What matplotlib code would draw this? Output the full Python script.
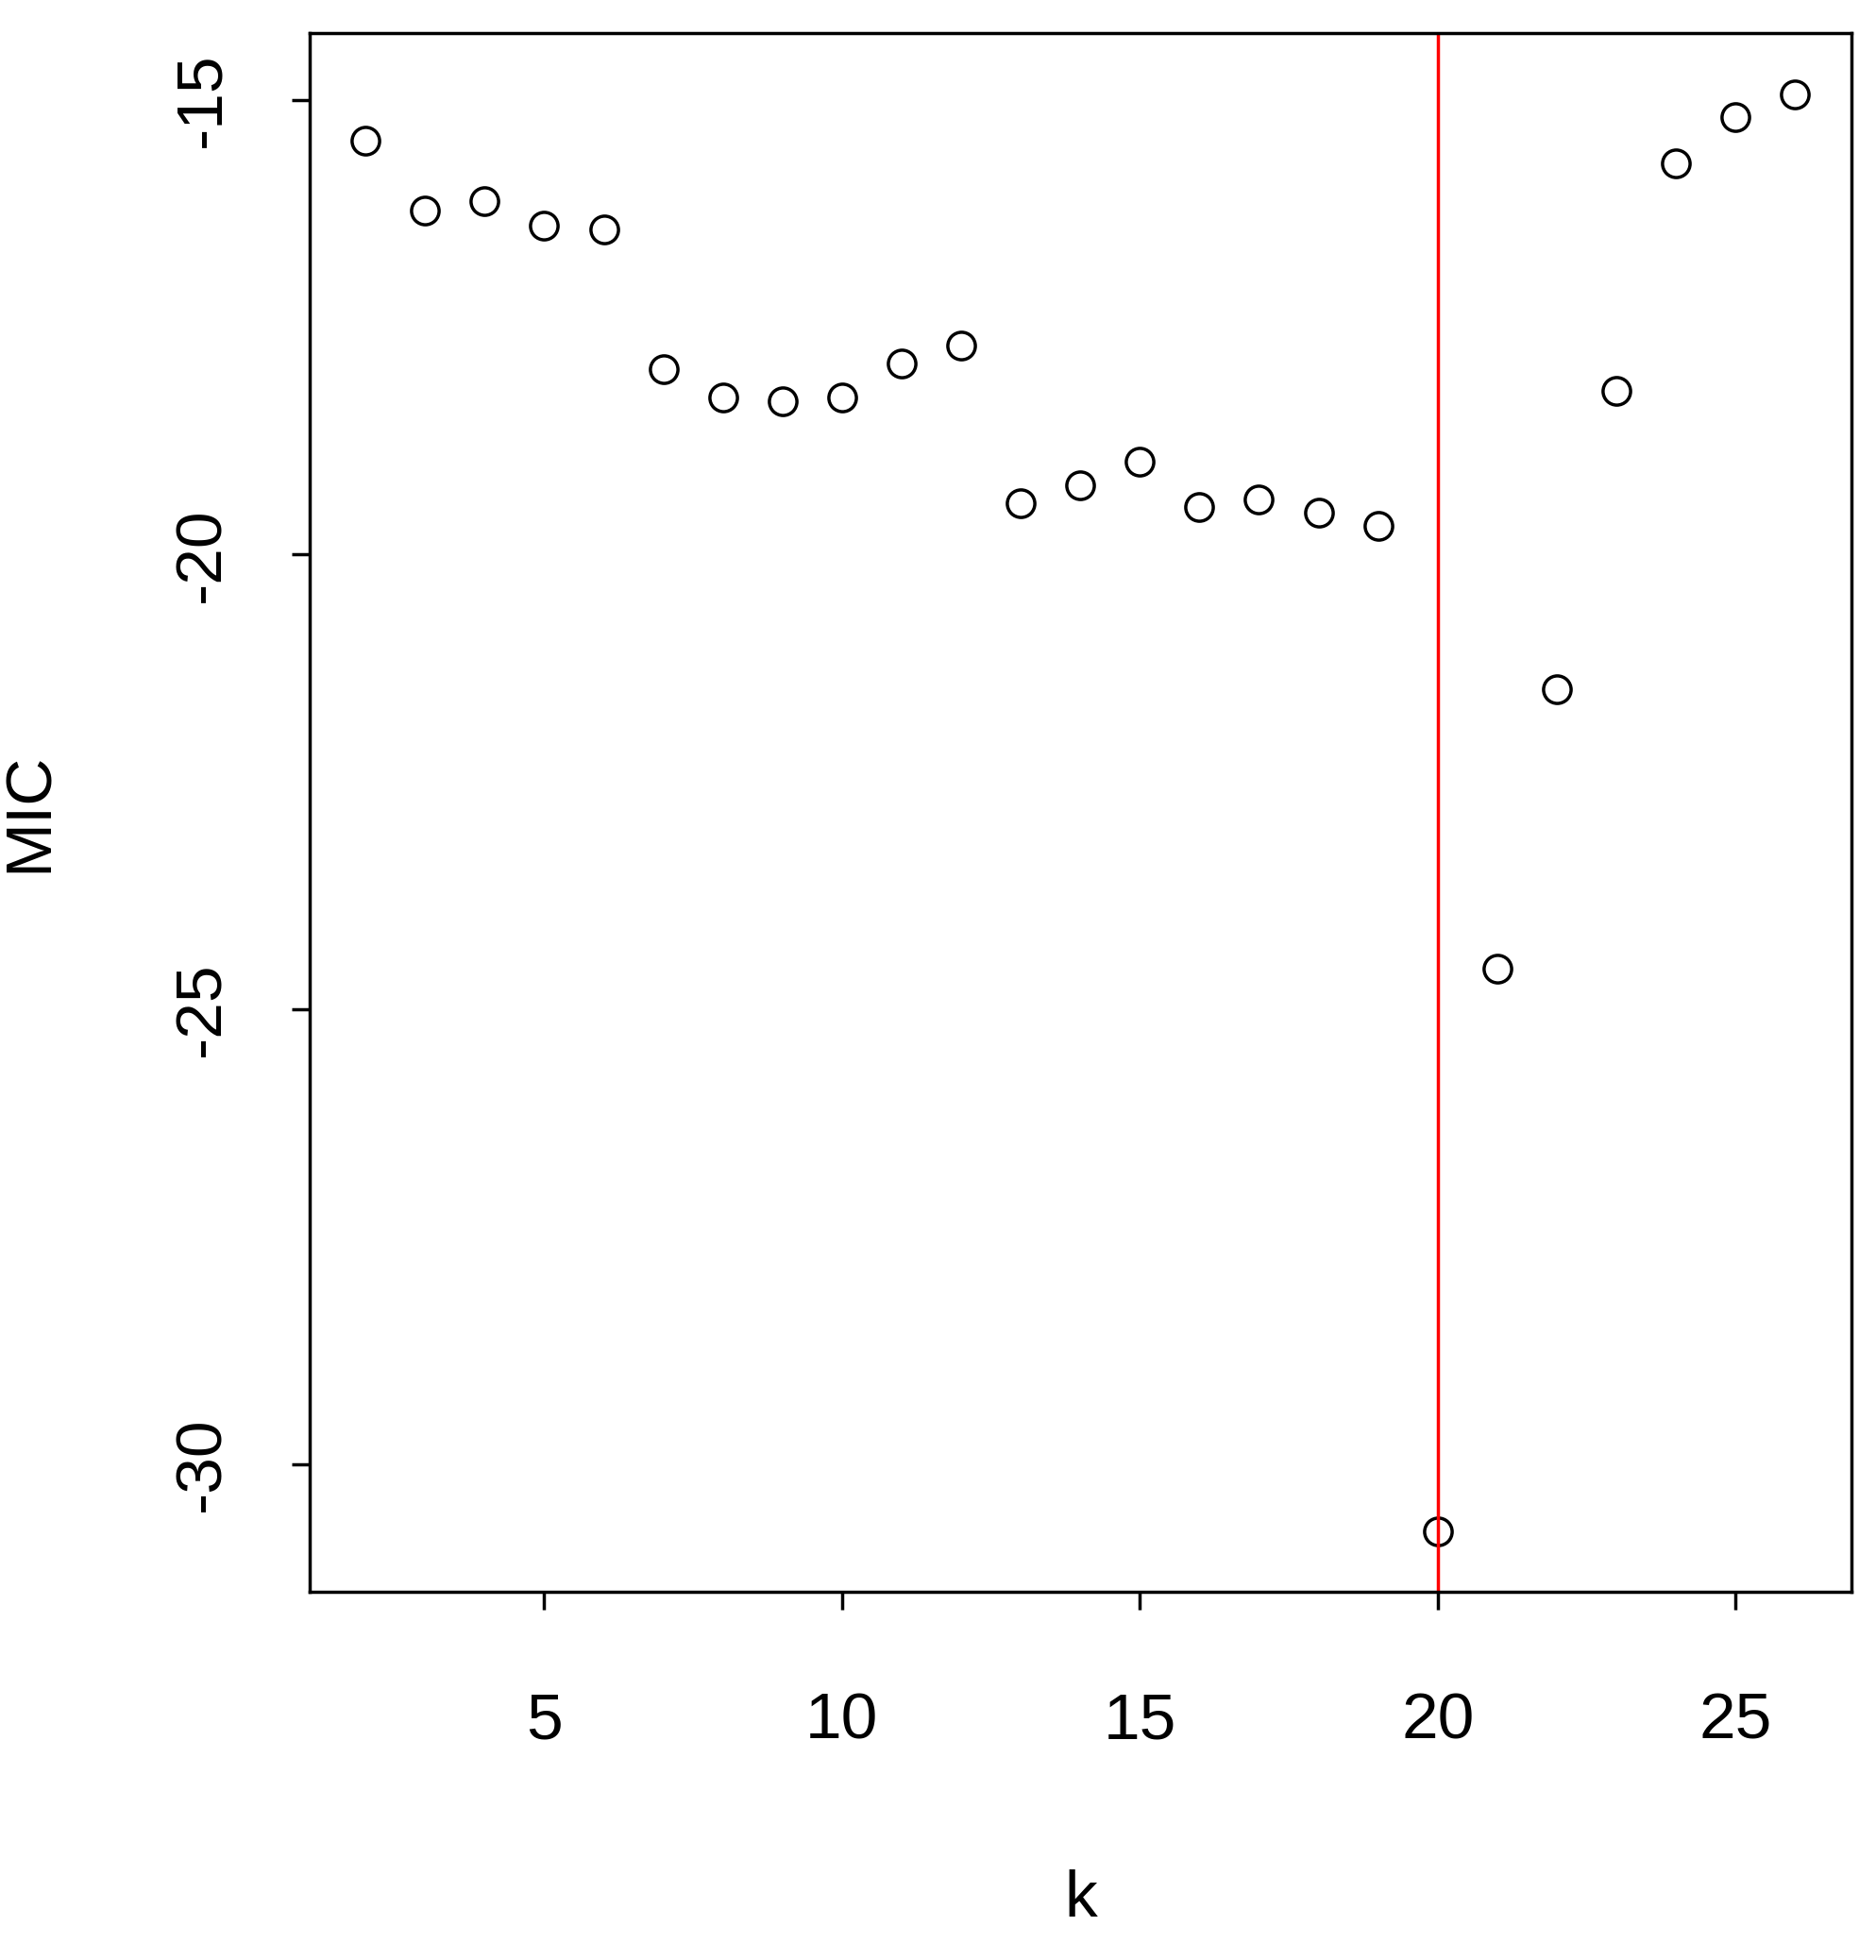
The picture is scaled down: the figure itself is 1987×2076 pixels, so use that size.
import matplotlib
matplotlib.use("Agg")
import matplotlib.pyplot as plt
import numpy as np

k = np.arange(2, 27)
mic = [-15.45, -16.22, -16.11, -16.38, -16.43, -17.96, -18.27, -18.31, -18.27,
       -17.90, -17.70, -19.44, -19.24, -18.98, -19.48, -19.39, -19.54, -19.69,
       -30.74, -24.55, -21.48, -18.20, -15.70, -15.19, -14.94]
best_k = 20

plt.rcParams["font.family"] = ["Liberation Sans", "DejaVu Sans"]
plt.rcParams["axes.unicode_minus"] = False
fig = plt.figure(figsize=(19.87, 20.76), dpi=100)
ax = fig.add_axes([0.165, 0.188, 0.822, 0.795])
ax.plot(k, mic, linestyle="none", marker="o", markersize=21,
        markerfacecolor="none", markeredgecolor="black", markeredgewidth=2.5)
ax.axvline(best_k, color="red", linewidth=2.5)

ax.set_xlim(1.06, 26.95)
ax.set_ylim(-31.4, -14.27)
ax.set_xticks([5, 10, 15, 20, 25])
ax.set_yticks([-30, -25, -20, -15])
ax.tick_params(axis="x", labelsize=50, length=14, width=2.5, pad=62)
ax.tick_params(axis="y", labelsize=50, length=14, width=2.5, pad=45)
for lab in ax.get_yticklabels():
    lab.set_rotation(90)
    lab.set_va("center")
for s in ax.spines.values():
    s.set_linewidth(2.5)
ax.set_xlabel("k", fontsize=50, labelpad=90)
ax.set_ylabel("MIC", fontsize=50, labelpad=85)

fig.savefig("out.png", dpi=100)
